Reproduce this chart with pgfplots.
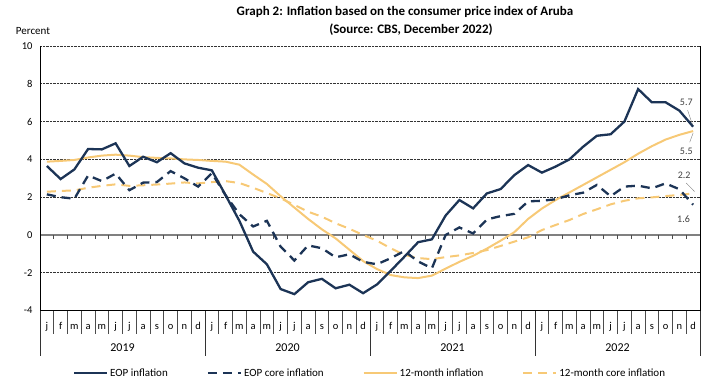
\documentclass[border=0pt]{standalone}
\usepackage{fontspec}
\setmainfont{Carlito}
\usepackage{pgfplots}
\pgfplotsset{compat=1.18}
\usepackage{pgfplotstable}
\definecolor{navy}{RGB}{28,52,86}
\definecolor{sand}{RGB}{247,201,118}

\pgfplotstableread{
x eop core tw twcore
0.5 3.65 2.15 3.88 2.29
1.5 2.96 2.00 3.92 2.33
2.5 3.47 1.92 3.97 2.36
3.5 4.55 3.15 4.10 2.50
4.5 4.53 2.85 4.20 2.60
5.5 4.85 3.25 4.25 2.68
6.5 3.65 2.37 4.20 2.60
7.5 4.14 2.77 4.12 2.63
8.5 3.85 2.80 4.08 2.67
9.5 4.33 3.38 4.05 2.72
10.5 3.79 3.00 4.00 2.78
11.5 3.56 2.56 3.97 2.73
12.5 3.42 3.27 3.92 2.80
13.5 2.10 2.10 3.88 2.85
14.5 0.75 1.10 3.72 2.75
15.5 -0.88 0.45 3.20 2.50
16.5 -1.55 0.75 2.70 2.22
17.5 -2.86 -0.62 2.05 1.94
18.5 -3.13 -1.35 1.45 1.59
19.5 -2.50 -0.55 0.85 1.23
20.5 -2.32 -0.70 0.30 0.97
21.5 -2.82 -1.18 -0.18 0.62
22.5 -2.63 -1.02 -0.78 0.33
23.5 -3.08 -1.42 -1.38 0.00
24.5 -2.62 -1.55 -1.80 -0.30
25.5 -1.90 -1.23 -2.12 -0.70
26.5 -1.15 -0.85 -2.24 -1.05
27.5 -0.38 -1.40 -2.28 -1.22
28.5 -0.23 -1.76 -2.15 -1.28
29.5 1.03 0.00 -1.78 -1.17
30.5 1.85 0.40 -1.42 -1.08
31.5 1.41 0.08 -1.10 -0.95
32.5 2.20 0.82 -0.72 -0.80
33.5 2.43 1.00 -0.30 -0.58
34.5 3.17 1.12 0.15 -0.35
35.5 3.70 1.78 0.85 -0.12
36.5 3.30 1.81 1.40 0.26
37.5 3.62 1.89 1.85 0.53
38.5 4.00 2.10 2.25 0.79
39.5 4.67 2.24 2.65 1.11
40.5 5.25 2.65 3.05 1.36
41.5 5.33 2.05 3.45 1.62
42.5 6.00 2.56 3.85 1.81
43.5 7.72 2.61 4.30 1.94
44.5 7.02 2.47 4.70 1.99
45.5 7.02 2.73 5.05 2.06
46.5 6.58 2.42 5.30 2.12
47.5 5.73 1.60 5.50 2.20
}\data

\begin{document}
\begin{tikzpicture}
\begin{axis}[
  at={(0pt,0pt)}, anchor=south west,
  scale only axis, width=660pt, height=264.6pt,
  xmin=0, xmax=48, ymin=-4, ymax=10,
  axis line style={draw=none},
  clip=false,
  ytick={-4,-2,0,2,4,6,8,10}, yticklabels={-4,-2,0,2,4,6,8,10},
  ymajorgrids, grid style={black!80, densely dotted, line width=0.7pt},
  major tick length=0pt,
  xtick={0.5,1.5,...,47.5},
  xticklabels={j,f,m,a,m,j,j,a,s,o,n,d,j,f,m,a,m,j,j,a,s,o,n,d,j,f,m,a,m,j,j,a,s,o,n,d,j,f,m,a,m,j,j,a,s,o,n,d},
  xticklabel style={font=\fontsize{10.5}{12}\selectfont, anchor=base, yshift=-19pt},
  yticklabel style={font=\fontsize{10.5}{12}\selectfont, xshift=-4pt},
  legend columns=4,
  legend style={draw=none, at={(0.5,-0.236)}, anchor=center,
    font=\fontsize{11}{13}\selectfont,
    /tikz/every even column/.append style={column sep=37pt}},
  legend image code/.code={\draw[#1] (0pt,0pt) -- (33pt,0pt);},
]
\addlegendimage{navy, line width=2.3pt}
\addlegendentry{EOP inflation}
\addlegendimage{navy, line width=2.3pt, dash pattern=on 9pt off 6pt}
\addlegendentry{EOP core inflation}
\addlegendimage{sand, line width=2pt}
\addlegendentry{12-month inflation}
\addlegendimage{sand, line width=2pt, dash pattern=on 9pt off 6pt}
\addlegendentry{12-month core inflation}

% zero line and ticks
\draw[gray, line width=1.2pt] (axis cs:0,0) -- (axis cs:48,0);
\pgfplotsinvokeforeach{1,...,47}{
  \draw[black!70, line width=0.6pt] (axis cs:#1,0) -- ++(0pt,-4pt);
  \draw[black!70, line width=0.6pt] (axis cs:#1,-4) -- ++(0pt,-23pt);
}
\pgfplotsinvokeforeach{0,12,24,36,48}{
  \draw[black!80, line width=0.8pt] (axis cs:#1,-4) -- ++(0pt,-45pt);
}
\draw[black, line width=1pt] (axis cs:0,10) -- (axis cs:0,-4) -- (axis cs:48,-4) -- (axis cs:48,10);

\addplot[sand, line width=2pt, dash pattern=on 9pt off 6pt, forget plot] table[x=x,y=twcore]{\data};
\addplot[sand, line width=2pt, forget plot] table[x=x,y=tw]{\data};
\addplot[navy, line width=2.3pt, dash pattern=on 9pt off 6pt, forget plot] table[x=x,y=core]{\data};
\addplot[navy, line width=2.3pt, forget plot] table[x=x,y=eop]{\data};

% year labels
\node[font=\fontsize{12}{14}\selectfont, yshift=-37.4pt] at (axis cs:6,-4) {2019};
\node[font=\fontsize{12}{14}\selectfont, yshift=-37.4pt] at (axis cs:18,-4) {2020};
\node[font=\fontsize{12}{14}\selectfont, yshift=-37.4pt] at (axis cs:30,-4) {2021};
\node[font=\fontsize{12}{14}\selectfont, yshift=-37.4pt] at (axis cs:42,-4) {2022};

% end labels
\node[font=\fontsize{10}{12}\selectfont, text=black!75] at (axis cs:47.0,7.04) {5.7};
\node[font=\fontsize{10}{12}\selectfont, text=black!75] at (axis cs:47.0,4.44) {5.5};
\node[font=\fontsize{10}{12}\selectfont, text=black!75] at (axis cs:46.85,3.17) {2.2};
\node[font=\fontsize{10}{12}\selectfont, text=black!75] at (axis cs:46.8,0.85) {1.6};
\draw[gray, line width=0.4pt] (axis cs:47.1,6.6) -- (axis cs:47.45,5.85);
\draw[gray, line width=0.4pt] (axis cs:47.25,4.9) -- (axis cs:47.5,5.4);
\draw[gray, line width=0.4pt] (axis cs:47.0,2.75) -- (axis cs:47.6,2.3);
\end{axis}
\node[font=\bfseries\fontsize{13}{15}\selectfont] at (365pt,298.6pt) {Graph 2: Inflation based on the consumer price index of Aruba};
\node[font=\bfseries\fontsize{13}{15}\selectfont] at (371pt,280.6pt) {(Source: CBS, December 2022)};
\node[font=\fontsize{11}{13}\selectfont] at (-7pt,279.6pt) {Percent};
\path[use as bounding box] (-40pt,-76.4pt) rectangle (674pt,310.6pt);
\end{tikzpicture}
\end{document}
